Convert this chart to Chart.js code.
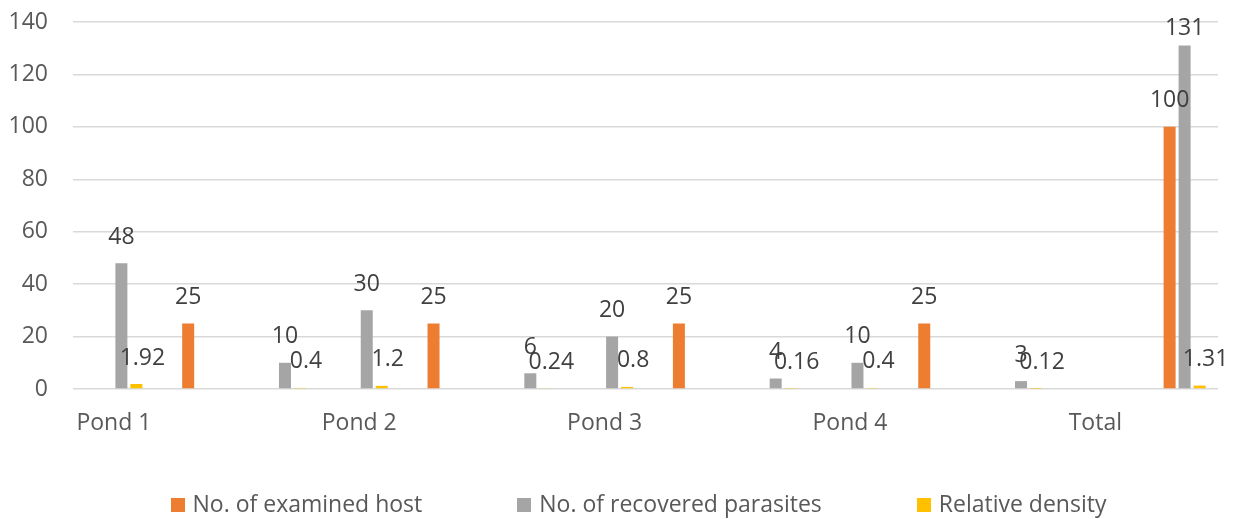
<!DOCTYPE html>
<html>
<head>
<meta charset="utf-8">
<script src="https://cdn.jsdelivr.net/npm/chart.js@4/dist/chart.umd.min.js"></script>
<style>
  html, body { margin: 0; padding: 0; background: #ffffff; }
  #wrap { width: 1234px; height: 519px; }
</style>
</head>
<body>
<div id="wrap"><canvas id="chart" width="1234" height="519"></canvas></div>
<script>
// Category slots along the x axis (only every third one carries a name)
const categories = ['Pond 1', '', '', 'Pond 2', '', '', 'Pond 3', '', '', 'Pond 4', '', '', 'Total', ''];

// Empty first column of the sheet: keeps its slot in every group but draws nothing
const blankColumn = [null, null, null, null, null, null, null, null, null, null, null, null, null, null];
const examinedHost = [null, 25, null, null, 25, null, null, 25, null, null, 25, null, null, 100];
const recoveredParasites = [48, null, 10, 30, null, 6, 20, null, 4, 10, null, 3, null, 131];
const relativeDensity = [1.92, null, 0.4, 1.2, null, 0.24, 0.8, null, 0.16, 0.4, null, 0.12, null, 1.31];

const seriesNames = ['No. of examined host', 'No. of recovered parasites', 'Relative density'];
const yTicks = [0, 20, 40, 60, 80, 100, 120, 140];

const FONT_FAMILY = '"Open Sans", "Liberation Sans", sans-serif';
const FONT_SIZE = 23;
const TEXT_GREY = '#595959';
const LABEL_GREY = '#404040';

// Value labels written above each bar
const barValueLabels = {
  id: 'barValueLabels',
  afterDatasetsDraw(chart) {
    const ctx = chart.ctx;
    ctx.save();
    ctx.font = FONT_SIZE + 'px ' + FONT_FAMILY;
    ctx.fillStyle = LABEL_GREY;
    ctx.textAlign = 'center';
    ctx.textBaseline = 'middle';
    chart.data.datasets.forEach((ds, di) => {
      const meta = chart.getDatasetMeta(di);
      if (meta.hidden) return;
      meta.data.forEach((bar, i) => {
        const v = ds.data[i];
        if (v === null || v === undefined) return;
        const nudge = ds.labelNudge || 0;
        const y = Math.max(bar.y - 26, chart.chartArea.top + 6);
        ctx.fillText(String(v), bar.x + nudge, y);
      });
    });
    ctx.restore();
  }
};

// Legend row along the bottom, centred under the plot
const bottomLegend = {
  id: 'bottomLegend',
  afterDraw(chart) {
    const ctx = chart.ctx;
    const items = chart.data.datasets.filter(ds => ds.label);
    const box = 14, boxGap = 8, itemGap = 95;
    ctx.save();
    ctx.font = FONT_SIZE + 'px ' + FONT_FAMILY;
    const widths = items.map(ds => ctx.measureText(ds.label).width);
    let total = 0;
    widths.forEach((w, i) => { total += box + boxGap + w + (i < widths.length - 1 ? itemGap : 0); });
    const cx = (chart.chartArea.left + chart.chartArea.right) / 2 - 7;
    const cy = 505;
    let x = cx - total / 2;
    ctx.textAlign = 'left';
    ctx.textBaseline = 'middle';
    items.forEach((ds, i) => {
      ctx.fillStyle = ds.backgroundColor;
      ctx.fillRect(Math.round(x), Math.round(cy - box / 2), box, box);
      x += box + boxGap;
      ctx.fillStyle = TEXT_GREY;
      ctx.fillText(ds.label, x, cy);
      x += widths[i] + itemGap;
    });
    ctx.restore();
  }
};

function draw() {
  const barShape = { barPercentage: 0.8, categoryPercentage: 0.7336 };
  new Chart(document.getElementById('chart'), {
    type: 'bar',
    data: {
      labels: categories,
      datasets: [
        Object.assign({ label: '', data: blankColumn, backgroundColor: 'rgba(0,0,0,0)' }, barShape),
        Object.assign({ label: seriesNames[0], data: examinedHost, backgroundColor: '#ED7D31' }, barShape),
        Object.assign({ label: seriesNames[1], data: recoveredParasites, backgroundColor: '#A5A5A5' }, barShape),
        Object.assign({ label: seriesNames[2], data: relativeDensity, backgroundColor: '#FFC000', labelNudge: 6 }, barShape)
      ]
    },
    options: {
      responsive: false,
      animation: false,
      layout: { padding: { top: 22, right: 16, bottom: 80, left: 0 } },
      plugins: {
        legend: { display: false },
        tooltip: { enabled: false }
      },
      scales: {
        x: {
          grid: { display: false, drawTicks: false },
          border: { display: false },
          ticks: {
            autoSkip: false,
            maxRotation: 0,
            padding: 21,
            color: TEXT_GREY,
            font: { family: FONT_FAMILY, size: FONT_SIZE }
          },
          afterFit(scale) { scale.height = 50; }
        },
        y: {
          min: yTicks[0],
          max: yTicks[yTicks.length - 1],
          afterBuildTicks(scale) { scale.ticks = yTicks.map(v => ({ value: v })); },
          grid: { color: '#D9D9D9', lineWidth: 1.5, drawTicks: false },
          border: { display: false },
          ticks: {
            padding: 25,
            color: TEXT_GREY,
            font: { family: FONT_FAMILY, size: FONT_SIZE }
          },
          afterFit(scale) {
            scale.width = 73;
            scale.paddingTop = 0;
            scale.paddingBottom = 0;
          }
        }
      }
    },
    plugins: [barValueLabels, bottomLegend]
  });
}

if (document.fonts && document.fonts.load) {
  document.fonts.load(FONT_SIZE + 'px "Open Sans"').then(draw, draw);
} else {
  draw();
}
</script>
</body>
</html>
